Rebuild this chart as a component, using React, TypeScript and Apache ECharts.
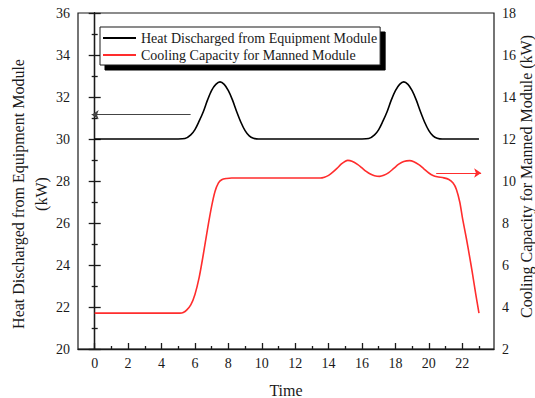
import React, { useEffect, useRef } from "react";
import * as echarts from "echarts";

// Heat discharged from the equipment module (kW, left axis)
const heatHours = [
  0, 5.0, 5.4, 5.75, 6.0, 6.25, 6.5, 6.75, 7.0, 7.25, 7.5, 7.75, 8.0, 8.25, 8.5, 8.75, 9.0, 9.25, 9.5, 9.8, 10.0,
  16.0, 16.4, 16.75, 17.0, 17.25, 17.5, 17.75, 18.0, 18.25, 18.5, 18.75, 19.0, 19.25, 19.5, 19.75, 20.0, 20.25, 20.5, 20.8, 21.0, 23.0,
];
const heatKW = [
  30, 30, 30.02, 30.2, 30.45, 30.85, 31.3, 31.85, 32.32, 32.6, 32.72, 32.6, 32.3, 31.85, 31.3, 30.8, 30.4, 30.15, 30.04, 30, 30,
  30, 30.02, 30.2, 30.45, 30.85, 31.3, 31.85, 32.3, 32.6, 32.72, 32.6, 32.3, 31.85, 31.3, 30.8, 30.4, 30.15, 30.04, 30, 30, 30,
];

// Cooling capacity for the manned module (kW, right axis)
const coolingHours = [
  0, 5.1, 5.3, 5.5, 5.75, 6.0, 6.25, 6.5, 6.75, 7.0, 7.2, 7.4, 7.6, 7.9, 8.2, 13.5,
  13.75, 14.0, 14.25, 14.5, 14.75, 15.0, 15.15, 15.4, 15.75, 16.0, 16.25, 16.5, 16.75, 17.05, 17.3, 17.6, 17.9,
  18.2, 18.5, 18.85, 19.1, 19.4, 19.7, 20.0, 20.25, 20.5, 20.9, 21.2, 21.45, 21.65, 21.85, 22.03, 22.25, 22.45, 22.6, 22.8, 23.0,
];
const coolingKW = [
  3.71, 3.71, 3.74, 3.85, 4.1, 4.6, 5.4, 6.5, 7.7, 8.8, 9.5, 9.9, 10.06, 10.12, 10.14, 10.14,
  10.18, 10.27, 10.42, 10.6, 10.8, 10.94, 10.98, 10.94, 10.78, 10.62, 10.46, 10.33, 10.25, 10.22, 10.27, 10.4, 10.6,
  10.8, 10.93, 10.97, 10.92, 10.78, 10.58, 10.38, 10.26, 10.2, 10.15, 10.07, 9.9, 9.6, 9.0, 8.16, 7.25, 6.35, 5.65, 4.65, 3.71,
];

// Arrows pointing each curve to its axis
const heatArrow = [[5.74, 31.16], [-0.18, 31.16]];
const coolingArrow = [[20.44, 10.38], [23.13, 10.38]];

// Axis ticks
const majorHourTicks = [0, 2, 4, 6, 8, 10, 12, 14, 16, 18, 20, 22];
const minorHourTicks = [1, 3, 5, 7, 9, 11, 13, 15, 17, 19, 21, 23];

const seriesNames = ["Heat Discharged from Equipment Module", "Cooling Capacity for Manned Module"];

const FONT = "Liberation Serif";
const INK = "#1a1a1a";
const RED = "#ff2d2d";

export default function App() {
  const ref = useRef<HTMLDivElement>(null);

  useEffect(() => {
    if (!ref.current) return;
    const chart = echarts.init(ref.current, undefined, { renderer: "svg" });

    const labelStyle = { fontFamily: FONT, fontSize: 14, color: INK };

    chart.setOption({
      animation: false,
      backgroundColor: "#fff",
      grid: {
        left: 78,
        right: 41,
        top: 13,
        bottom: 49,
        containLabel: false,
        outerBoundsMode: "none",
        show: true,
        borderColor: INK,
        borderWidth: 1.2,
        backgroundColor: "transparent",
      },
      legend: {
        orient: "vertical",
        left: 100,
        top: 27,
        data: seriesNames.map((name) => ({ name, icon: "rect" })),
        itemWidth: 33,
        itemHeight: 2,
        itemGap: 3,
        padding: [4, 3, 3, 3],
        backgroundColor: "#fff",
        borderColor: INK,
        borderWidth: 1,
        shadowColor: "#000",
        shadowBlur: 0,
        shadowOffsetX: 5,
        shadowOffsetY: 5,
        textStyle: { fontFamily: FONT, fontSize: 14, color: INK },
      },
      xAxis: [
        {
          type: "value",
          min: -1,
          max: 23.9,
          position: "bottom",
          name: "Time",
          nameLocation: "middle",
          nameGap: 33,
          nameMoveOverlap: false,
          nameTextStyle: { fontFamily: FONT, fontSize: 16, color: INK },
          axisLine: { show: true, lineStyle: { color: INK, width: 1.3 } },
          axisTick: { show: true, inside: true, length: 6, customValues: majorHourTicks, lineStyle: { color: INK, width: 1.3 } },
          axisLabel: { ...labelStyle, margin: 7, customValues: majorHourTicks },
          splitLine: { show: false },
        },
        {
          type: "value",
          min: -1,
          max: 23.9,
          position: "bottom",
          offset: 0,
          axisLine: { show: false },
          axisTick: { show: true, inside: true, length: 3, customValues: minorHourTicks, lineStyle: { color: INK, width: 1.3 } },
          axisLabel: { show: false },
          splitLine: { show: false },
        },
      ],
      yAxis: [
        {
          type: "value",
          min: 20,
          max: 36,
          interval: 2,
          position: "left",
          name: "Heat Discharged from Equipment Module\n(kW)",
          nameLocation: "middle",
          nameGap: 25,
          nameMoveOverlap: false,
          nameTextStyle: { fontFamily: FONT, fontSize: 16, color: INK, lineHeight: 23, padding: [0, 26, 0, 0] },
          axisLine: { show: true, lineStyle: { color: INK, width: 1.3 } },
          axisTick: { show: true, inside: true, length: 6, lineStyle: { color: INK, width: 1.3 } },
          minorTick: { show: true, splitNumber: 2, length: 3, lineStyle: { color: INK, width: 1.3 } },
          axisLabel: { ...labelStyle, margin: 8 },
          splitLine: { show: false },
        },
        {
          type: "value",
          min: 2,
          max: 18,
          interval: 2,
          position: "right",
          name: "Cooling Capacity for Manned Module (kW)",
          nameLocation: "middle",
          nameGap: 24,
          nameMoveOverlap: false,
          nameTextStyle: { fontFamily: FONT, fontSize: 16, color: INK, padding: [0, 0, 0, 9] },
          axisLine: { show: true, lineStyle: { color: INK, width: 1.3 } },
          axisTick: { show: true, inside: true, length: 6, lineStyle: { color: INK, width: 1.3 } },
          minorTick: { show: true, splitNumber: 2, length: 3, lineStyle: { color: INK, width: 1.3 } },
          axisLabel: { ...labelStyle, margin: 8 },
          splitLine: { show: false },
        },
      ],
      series: [
        {
          name: seriesNames[0],
          type: "line",
          xAxisIndex: 0,
          yAxisIndex: 0,
          data: heatHours.map((h, i) => [h, heatKW[i]]),
          smooth: 0.3,
          symbol: "none",
          lineStyle: { color: "#000", width: 1.6 },
          itemStyle: { color: "#000" },
        },
        {
          name: seriesNames[1],
          type: "line",
          xAxisIndex: 0,
          yAxisIndex: 1,
          data: coolingHours.map((h, i) => [h, coolingKW[i]]),
          smooth: 0.3,
          symbol: "none",
          lineStyle: { color: RED, width: 1.6 },
          itemStyle: { color: RED },
        },
        {
          type: "lines",
          coordinateSystem: "cartesian2d",
          xAxisIndex: 0,
          yAxisIndex: 0,
          symbol: ["none", "arrow"],
          symbolSize: 7,
          lineStyle: { color: "#444", width: 1, opacity: 1 },
          data: [{ coords: heatArrow }],
          silent: true,
        },
        {
          type: "lines",
          coordinateSystem: "cartesian2d",
          xAxisIndex: 0,
          yAxisIndex: 1,
          symbol: ["none", "arrow"],
          symbolSize: 7,
          lineStyle: { color: RED, width: 1, opacity: 1 },
          data: [{ coords: coolingArrow }],
          silent: true,
        },
      ],
    });

    return () => chart.dispose();
  }, []);

  return (
    <div
      ref={ref}
      style={{ position: "fixed", left: 0, top: 0, width: 535, height: 398, background: "#fff" }}
    />
  );
}
